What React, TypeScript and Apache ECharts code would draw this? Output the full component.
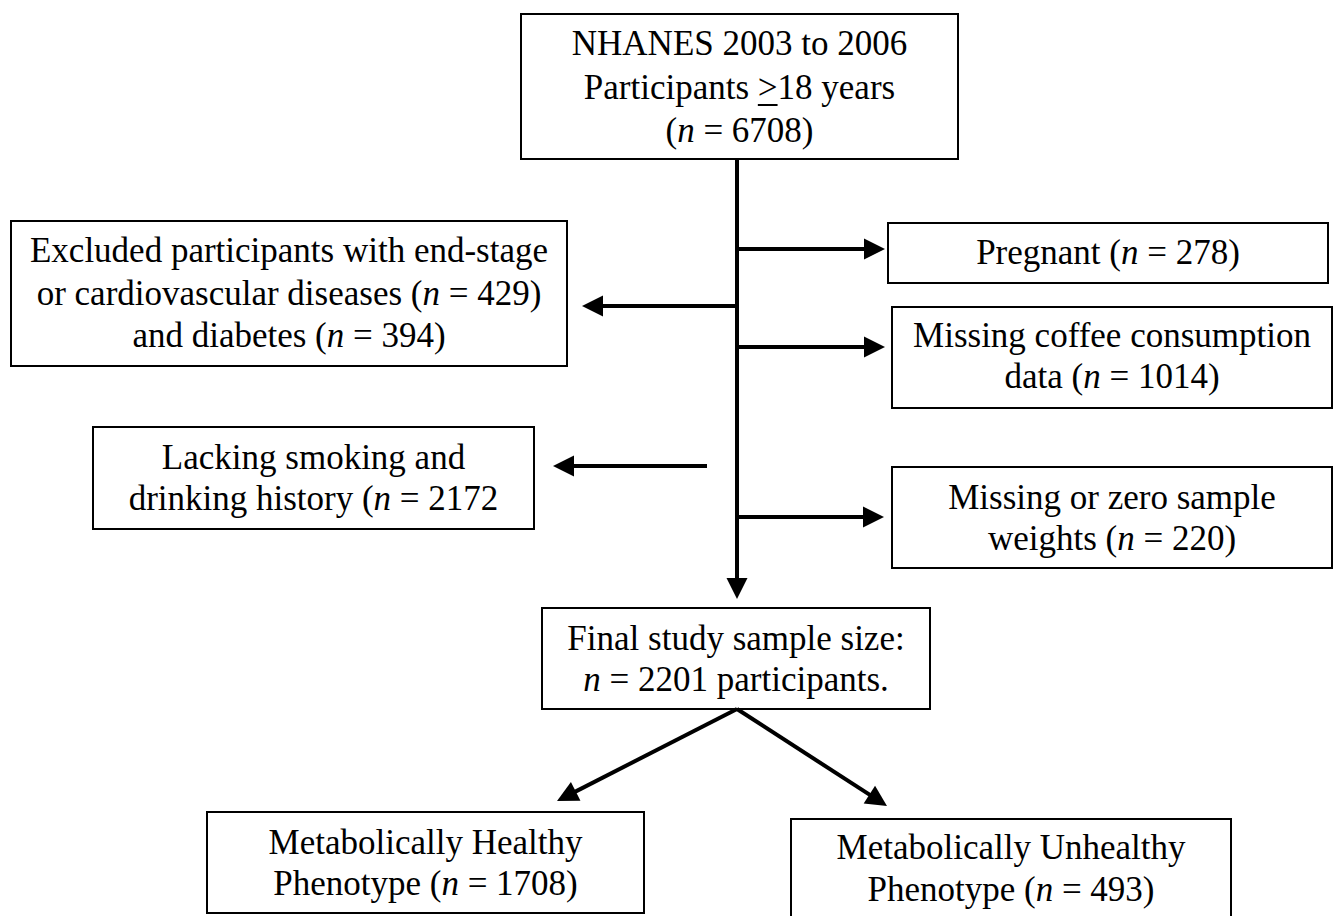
import React, { useEffect, useRef } from 'react';
import * as echarts from 'echarts';

const totalCount = 6708;
const surveyYears = [2003, 2006];
const minAge = 18;
const rightExclusions = ['Pregnant', 'Missing coffee consumption data', 'Missing or zero sample weights'];
const rightExclusionCounts = [278, 1014, 220];
const leftExclusionCounts = [429, 394, 2172]; // CVD / end-stage, diabetes, smoking & drinking
const finalCount = 2201;
const phenotypes = ['Metabolically Healthy', 'Metabolically Unhealthy'];
const phenotypeCounts = [1708, 493];

const N = '{i|n}';

// ---- Text of each box (built from the data above) ----
const boxTexts: string[][] = [
  [`NHANES ${surveyYears[0]} to ${surveyYears[1]}`, `Participants >${minAge} years`, `(${N} = ${totalCount})`],
  ['Excluded participants with end-stage', `or cardiovascular diseases (${N} = ${leftExclusionCounts[0]})`, `and diabetes (${N} = ${leftExclusionCounts[1]})`],
  [`${rightExclusions[0]} (${N} = ${rightExclusionCounts[0]})`],
  ['Missing coffee consumption', `data (${N} = ${rightExclusionCounts[1]})`],
  ['Lacking smoking and', `drinking history (${N} = ${leftExclusionCounts[2]}`],
  ['Missing or zero sample', `weights (${N} = ${rightExclusionCounts[2]})`],
  ['Final study sample size:', `${N} = ${finalCount} participants.`],
  [phenotypes[0], `Phenotype (${N} = ${phenotypeCounts[0]})`],
  [phenotypes[1], `Phenotype (${N} = ${phenotypeCounts[1]})`],
];

// ---- Layout (pixel positions of boxes and text baselines) ----
const boxRects = [
  [521, 14, 437, 145],
  [11, 221, 556, 145],
  [888, 223, 440, 60],
  [892, 307, 440, 101],
  [93, 427, 441, 102],
  [892, 467, 440, 101],
  [542, 608, 388, 101],
  [207, 812, 437, 101],
  [791, 819, 440, 110],
];
const boxBaselines = [
  [55, 99, 142],
  [262, 305, 347],
  [264],
  [347, 388],
  [469, 510],
  [509, 550],
  [650, 691],
  [854, 895],
  [859, 901],
];

const TRUNK_X = 737;
// arrows: [x1, y1, x2(tip), y2(tip), connectsToTrunk]
const arrows: number[][] = [
  [TRUNK_X, 159, TRUNK_X, 599],
  [TRUNK_X, 306, 582, 306],
  [TRUNK_X, 249, 885, 249],
  [TRUNK_X, 347, 885, 347],
  [707, 466, 553, 466],
  [TRUNK_X, 517, 884, 517],
  [737, 709, 557, 801],
  [737, 709, 887, 806],
];

const FONT = 'Liberation Serif';
const FS = 35;
const HEAD_L = 21;
const HEAD_W = 21;

function arrowElements(a: number[]) {
  const [x1, y1, x2, y2] = a;
  const dx = x2 - x1;
  const dy = y2 - y1;
  const len = Math.sqrt(dx * dx + dy * dy);
  const ux = dx / len;
  const uy = dy / len;
  const bx = x2 - ux * HEAD_L;
  const by = y2 - uy * HEAD_L;
  const px = -uy;
  const py = ux;
  return [
    {
      type: 'line',
      shape: { x1, y1, x2: bx + ux * 2, y2: by + uy * 2 },
      style: { stroke: '#000', lineWidth: 4 },
    },
    {
      type: 'polygon',
      shape: {
        points: [
          [x2, y2],
          [bx + (px * HEAD_W) / 2, by + (py * HEAD_W) / 2],
          [bx - (px * HEAD_W) / 2, by - (py * HEAD_W) / 2],
        ],
      },
      style: { fill: '#000', stroke: 'none' },
    },
  ];
}

function measure(text: string): number {
  try {
    const t = new (echarts.graphic as any).Text({ style: { text, fontSize: FS, fontFamily: FONT } });
    return t.getBoundingRect().width;
  } catch (e) {
    return 0;
  }
}

export default function App() {
  const ref = useRef<HTMLDivElement>(null);

  useEffect(() => {
    document.body.style.margin = '0';
    document.body.style.overflow = 'hidden';
    if (!ref.current) return;
    const chart = echarts.init(ref.current, null, { renderer: 'svg' });

    const elements: any[] = [];
    boxRects.forEach((r, i) => {
      elements.push({
        type: 'rect',
        shape: { x: r[0], y: r[1], width: r[2], height: r[3] },
        style: { fill: '#fff', stroke: '#000', lineWidth: 2 },
      });
      const cx = r[0] + r[2] / 2;
      boxTexts[i].forEach((line, j) => {
        elements.push({
          type: 'text',
          x: cx,
          y: boxBaselines[i][j] - 12,
          style: {
            text: line,
            fontSize: FS,
            fontFamily: FONT,
            fill: '#000',
            align: 'center',
            verticalAlign: 'middle',
            textAlign: 'center',
            textVerticalAlign: 'middle',
            rich: {
              i: { fontSize: FS, fontFamily: FONT, fontStyle: 'italic', fill: '#000' },
            },
          },
        });
      });
    });

    // underline below ">" in "Participants >18 years"
    const lineText = boxTexts[0][1];
    const full = measure(lineText);
    const pre = measure('Participants ');
    const gt = measure('>');
    let ux1 = 757;
    let ux2 = 777;
    if (full > 0 && pre > 0 && gt > 0) {
      const cx0 = boxRects[0][0] + boxRects[0][2] / 2;
      ux1 = cx0 - full / 2 + pre;
      ux2 = ux1 + gt;
    }
    elements.push({
      type: 'line',
      shape: { x1: ux1, y1: 105, x2: ux2, y2: 105 },
      style: { stroke: '#000', lineWidth: 2 },
    });

    arrows.forEach((a) => elements.push(...arrowElements(a)));

    chart.setOption({
      animation: false,
      backgroundColor: '#fff',
      graphic: { elements },
    });

    return () => chart.dispose();
  }, []);

  return <div ref={ref} style={{ width: 1333, height: 916 }} />;
}
